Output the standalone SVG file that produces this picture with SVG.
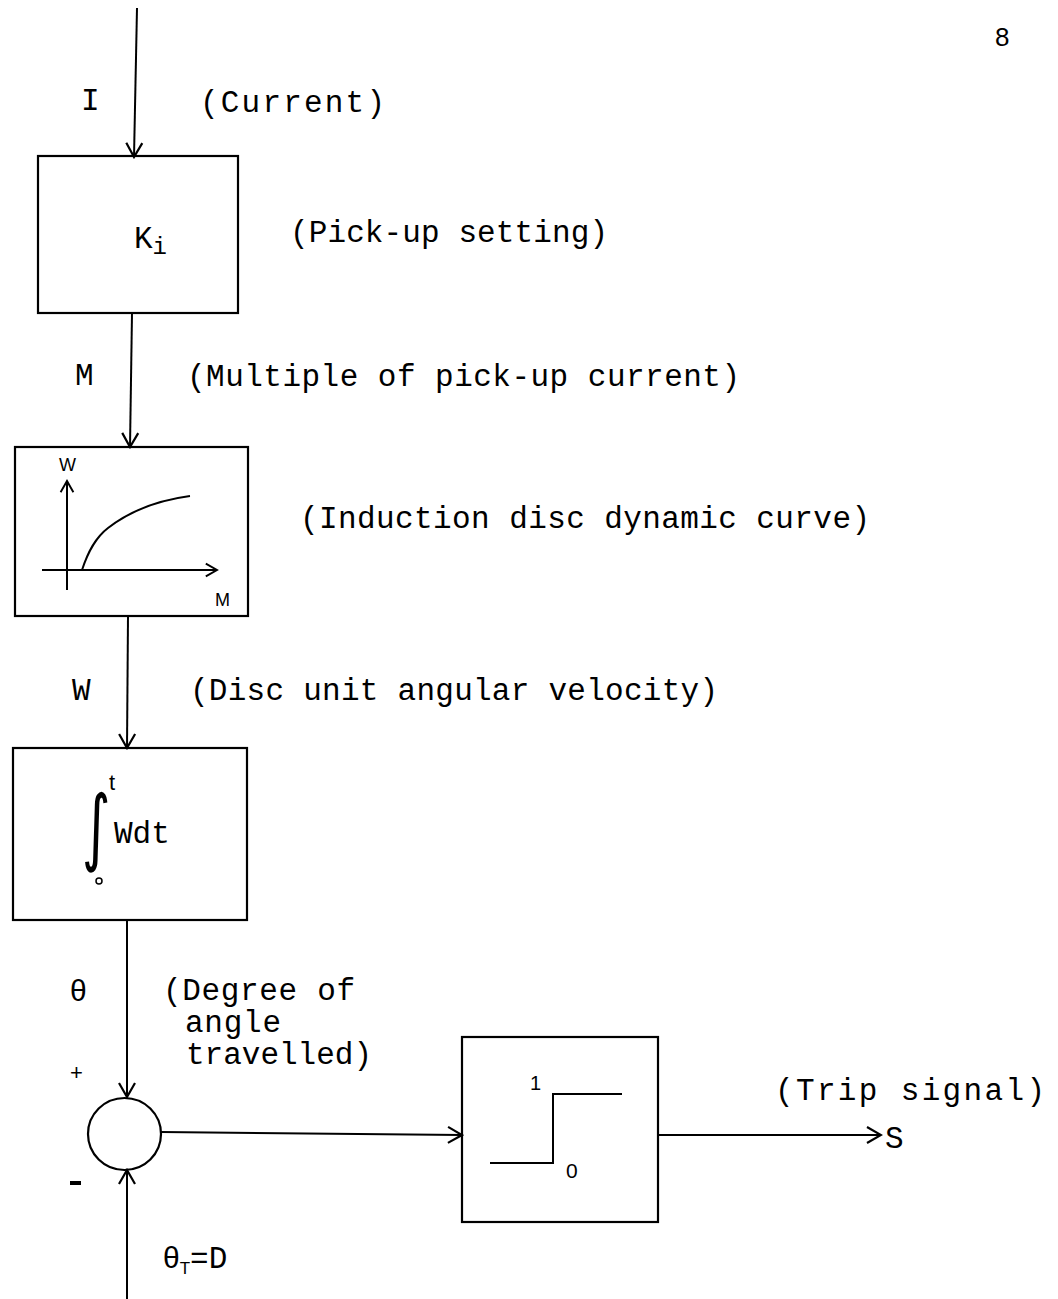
<svg xmlns="http://www.w3.org/2000/svg" width="1058" height="1299" viewBox="0 0 1058 1299">
<defs>
<marker id="arr" viewBox="0 0 20 20" refX="18" refY="10" markerWidth="20" markerHeight="20" markerUnits="userSpaceOnUse" orient="auto">
<path d="M4,2 L18,10 L4,18" fill="none" stroke="#000" stroke-width="2.2"/>
</marker>
<marker id="arrs" viewBox="0 0 20 20" refX="18" refY="10" markerWidth="16" markerHeight="16" markerUnits="userSpaceOnUse" orient="auto">
<path d="M4,2 L18,10 L4,18" fill="none" stroke="#000" stroke-width="2.4"/>
</marker>
</defs>
<style>
.box{fill:none;stroke:#000;stroke-width:2.2}
.ln{fill:none;stroke:#000;stroke-width:2}
.tt{font-family:"Liberation Mono",monospace;font-size:31px;fill:#000}
.hw{font-family:"Liberation Sans",sans-serif;fill:#000}
</style>
<rect width="1058" height="1299" fill="#fff"/>

<text class="hw" x="995" y="46" font-size="26">8</text>

<g id="connectors">
<path class="ln" d="M137,8 L134,157" marker-end="url(#arr)"/>
<path class="ln" d="M132,313 L130,447" marker-end="url(#arr)"/>
<path class="ln" d="M128,616 L127,748" marker-end="url(#arr)"/>
<path class="ln" d="M127,920 L127,1097" marker-end="url(#arr)"/>
<path class="ln" d="M127,1299 L127,1170" marker-end="url(#arr)"/>
<path class="ln" d="M161,1132 L462,1135" marker-end="url(#arr)"/>
<path class="ln" d="M658,1135 L881,1135" marker-end="url(#arr)"/>
</g>

<g id="labels">
<text class="tt" x="81" y="110">I</text>
<text class="tt" x="200" y="112" textLength="185" lengthAdjust="spacing">(Current)</text>
<text class="tt" x="75" y="385">M</text>
<text class="tt" x="187" y="386" textLength="553" lengthAdjust="spacing">(Multiple of pick-up current)</text>
<text class="tt" x="72" y="700">W</text>
<text class="tt" x="190" y="700" textLength="528" lengthAdjust="spacing">(Disc unit angular velocity)</text>
<text class="hw" x="70" y="1001" font-size="30">θ</text>
<text class="tt" x="163" y="1000" textLength="192" lengthAdjust="spacing">(Degree of</text>
<text class="tt" x="185" y="1032" textLength="96" lengthAdjust="spacing">angle</text>
<text class="tt" x="186" y="1064" textLength="186" lengthAdjust="spacing">travelled)</text>
<text class="hw" x="70" y="1080" font-size="22">+</text>
<rect x="70" y="1181" width="11" height="4" fill="#000"/>
<text class="hw" x="163" y="1268" font-size="30">θ<tspan font-size="17" dy="6">T</tspan><tspan class="tt" dy="-6" font-size="32">=D</tspan></text>
<text class="tt" x="775" y="1100" textLength="270" lengthAdjust="spacing">(Trip signal)</text>
<text class="tt" x="885" y="1148">S</text>
</g>

<g id="node-ki">
<rect class="box" x="38" y="156" width="200" height="157"/>
<text class="tt" x="134" y="248">K<tspan font-size="24" dy="6">i</tspan></text>
<text class="tt" x="290" y="242" textLength="318" lengthAdjust="spacing">(Pick-up setting)</text>
</g>

<g id="node-curve">
<rect class="box" x="15" y="447" width="233" height="169"/>
<path class="ln" d="M67,590 L67,481" marker-end="url(#arrs)"/>
<path class="ln" d="M42,570 L217,570" marker-end="url(#arrs)"/>
<path class="ln" d="M82,570 C88,552 95,538 108,528 C130,511 160,500 190,496"/>
<text class="hw" x="59" y="471" font-size="18">W</text>
<text class="hw" x="215" y="606" font-size="18">M</text>
<text class="tt" x="300" y="528" textLength="570" lengthAdjust="spacing">(Induction disc dynamic curve)</text>
</g>

<g id="node-integral">
<rect class="box" x="13" y="748" width="234" height="172"/>
<text transform="translate(82,855) scale(0.72,1.1)" font-family="'DejaVu Sans',sans-serif" font-size="76" fill="#000">∫</text>
<text class="hw" x="109" y="790" font-size="22">t</text>
<text class="tt" x="114" y="843" font-size="27">Wdt</text>
<circle cx="99" cy="881" r="3" fill="none" stroke="#000" stroke-width="1.5"/>
</g>

<g id="node-sum">
<ellipse class="box" cx="124.5" cy="1134" rx="36.5" ry="36" stroke-width="3"/>
</g>

<g id="node-step">
<rect class="box" x="462" y="1037" width="196" height="185"/>
<path class="ln" d="M490,1163 L553,1163 L553,1094 L622,1094"/>
<text class="hw" x="530" y="1090" font-size="20">1</text>
<text class="hw" x="566" y="1178" font-size="21">0</text>
</g>
</svg>
